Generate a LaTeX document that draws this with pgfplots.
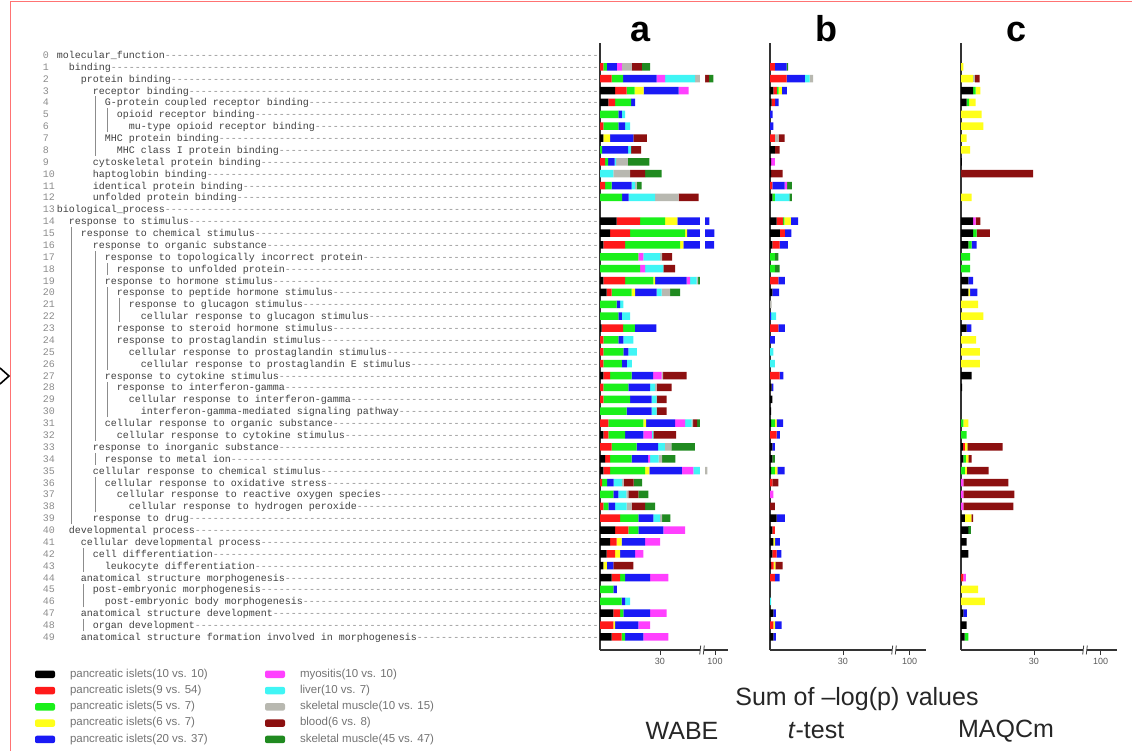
\documentclass[border=0pt]{standalone}
\usepackage{fontspec}
\setmainfont{Liberation Sans}
\newfontfamily\monof{Liberation Mono}
\usepackage{pgfplots}
\usepackage{pgfplotstable}
\pgfplotsset{compat=1.18}

\definecolor{cbk}{HTML}{000000}
\definecolor{crd}{HTML}{FF1A1A}
\definecolor{cgn}{HTML}{1AF01A}
\definecolor{cye}{HTML}{FFFF1A}
\definecolor{cbl}{HTML}{1A1AF5}
\definecolor{cmg}{HTML}{FF40FF}
\definecolor{ccy}{HTML}{40F5F5}
\definecolor{cgy}{HTML}{B8B8B0}
\definecolor{cdr}{HTML}{8C1010}
\definecolor{cdg}{HTML}{208A20}

\newlength\cw \setlength\cw{6pt}
\newcommand\T[1]{\hspace*{#1\cw}}
\newcommand\V{\makebox[\cw]{\textcolor{black!45}{\rule[-2.5pt]{0.8pt}{11.9pt}}}}
\newcommand\tl[3]{\hbox to 556pt{\monof\fontsize{10}{12}\selectfont\makebox[14pt][l]{\textcolor{black!45}{#1}}#2\textcolor{black!75}{#3}\textcolor{black!45}{\xleaders\hbox to 6pt{\hss-\hss}\hfill}}}

\pgfplotstableread{
y bk rd gn ye bl mg cy gy dr dg
0 0 0 0 0 0 0 0 0 0 0
1 0 1.7 1.7 0 5 2.5 0 5 5 4.2
2 0 5.8 5.8 0 16.7 4.2 15 5 2 2.2
3 7.5 5.8 4 4.5 17.5 5 0 0 0 0
4 4.2 3.3 8 0 2 0 0 0 0 0
5 0 0 9.2 0 1.7 0 1.7 0 0 0
6 0 1.7 7.5 0 3.3 0 2.5 0 0 0
7 1.7 0 0 3.3 11.7 0 0 0 6.7 0
8 0 0 1 0 13 0 1.5 0 5 0
9 0 2.5 1.5 0 3.3 0 0.8 5.8 0 10.8
10 0 0 0 0 0 0 6.7 8.3 7.5 8.3
11 0 2.5 3.3 0 10 0 1.7 0.8 0 2.5
12 0 0 11 0 3.3 0 13.3 11.7 10 0
13 0 0 0 0 0 0 0 0 0 0
14 8.3 11.7 12.5 6.2 16 0 0 0 0 0
15 5 10 27.5 1 13.7 0 0 0 0 0
16 1.7 10.8 27.5 1.7 15.3 0 0 0 0 0
17 0 0 19.2 0 0 2.5 8.3 1 5 0
18 0 0 20 0 0 2.5 9.2 0 5.8 0
19 1.7 10.8 14.2 0.8 15.8 1.7 3.3 0.8 0 1.7
20 3.3 2.5 10 1.7 10.8 0 2.5 4.2 0 5
21 0 0 8.3 0 1.7 0 1.7 0 0 0
22 0 0 9.2 0 1.7 0 4.2 0 0 0
23 0.8 10.8 5.8 0 10.8 0 0 0 0 0
24 0 1.7 7.5 0 2.5 0 5 0 0 0
25 0 1.7 10 0 2.5 0 4.2 0 0 0
26 0 1.7 9.2 0 2.5 0 2.5 0 0 0
27 1.7 3.3 10.8 0 10.8 4.2 0 0.8 11.7 0
28 0 1.7 12.5 0 10.8 0 2.5 0.8 7.5 0
29 0 1.7 13.3 0 10.8 0 2.5 0 5 0
30 0 0 13.3 0 12.5 0 2.5 0 5 0
31 0 4.2 17.5 1.3 14.5 5 3.3 0.8 2 1.4
32 1.7 2.5 8.3 0 9.2 4.2 0.8 0 11.3 0
33 0 5.8 12.5 0 10.8 0 3.3 3.3 0 11.7
34 2.5 2.5 10.8 0 8.3 1 4.2 1.7 0 6.7
35 1.7 3.3 17.5 2.2 16.2 5.8 4.2 2.8 0 0
36 0 1 2.5 0 3.3 0 4.2 0.8 5 4.2
37 0 0 6.7 0 2.5 0 4 1 5 5
38 0 1.7 2.5 0 3.3 0 5.8 2.5 6.7 5
39 0 10 9.2 0 7.5 0 3.3 1 0 4.2
40 7.5 6.7 5 0 12.5 10.8 0 0 0 0
41 5 3.3 0 2.5 11.7 7.5 0 0 0 0
42 3.3 4.2 0 2.5 7.5 4.2 0 0 0 0
43 1.7 0 0 1.7 3.3 0 0 0 10 0
44 5.8 4.2 2.5 0 12.5 9.2 0 0 0 0
45 0 0 6.7 0 1.7 0 0 0 0 0
46 0 0 10.8 0 1.7 0 2.5 0 0 0
47 6.7 3.3 1.7 0 13.3 8.3 0 0 0 0
48 0 6.7 0 0.8 11.7 5.8 0 0 0 0
49 5.8 5 1.7 0 9.2 12.5 0 0 0 0
}\tabA

\pgfplotstableread{
y bk rd gn ye bl mg cy gy dr dg
0 0 0 0 0 0 0 0 0 0 0
1 0 2 0 0 4.8 0 0 0 0 0.7
2 0 6.8 0 0 7.5 0 2 1.4 0 0
3 1.4 1.4 0.7 1.4 2 0 0 0 0 0
4 0.7 1.4 0 0 1.4 0 0 0 0 0
5 0 0 0 0 1.1 0 0 0 0 0
6 0 0 0 0 1.4 0 0 0 0 0
7 0 2 0 0 0 0 0 1.5 2.5 0
8 2 0 0 0 0 0 0 0 2 0
9 0.5 0 0 0 0 1.5 0 0 0 0
10 0.5 0 0 0 0 0 0 0 4.7 0
11 0 1 0 0 5 1 0 0 0 2
12 1 0 1 0 0 0 6 0 0 1
13 0 0 0 0 0 0 0 0 0 0
14 2.7 2.7 0.5 2.7 3 0 0 0 0 0
15 4.1 2 0 0 2.7 0 0 0 0 0
16 1 3 0 0 3.4 0 0 0 0 0
17 0 0 2 0 0 0 0 0 0 1.4
18 0 0 2 0 0 0 0 0 0 2
19 0 3.4 0 0 2.7 0 0 0 0 0
20 1 0 0 0 2.7 0 0 0 0 0
21 0 0 0 0 0 0 0 0.7 0 0
22 0 0 0 0 0.5 0 2 0 0 0
23 0 3.4 0 0 2.7 0 0 0 0 0
24 0 0 0 0 2 0 0 0 0 0
25 0 0 0 0 0 0 1.4 0 0 0
26 0 0 0 0 0 0 2 0 0 0
27 0 4 0 0 1.5 0 0 0 0 0
28 0.7 0 0 0 0.7 0 0 0 0 0
29 1 0 0 0 0 0 0 0 0 0
30 0.5 0 0 0 0 0 0 0 0 0
31 0.5 0 1.5 0.7 2.7 0 0 0 0 0
32 0 2.7 0 0 1.4 0 0 0 0 0
33 1 0 0 0 1 0 0 0 0 0
34 1 0 0 0 0 0 0 0 0 1
35 0.5 0 1.5 1 3 0 0 0 0 0
36 0 1 0 0 0 0 0 0 2.4 0
37 0 0 0 0 0 1.4 0 0 0 0
38 0 0 0 0 0 0 0 0 2 0
39 2.7 0 0 0 3.4 0 0 0 0 0
40 1 1 0 0 0 0 0 0 0 0
41 1.4 0 0 0.7 2 0 0 0 0 0
42 1 1.7 0 0 2 0 0 0 0 0
43 0.5 1 0 0.7 0 0 0 0 3 0
44 0 2 0 0 2 0 0 0 0 0
45 0 0 0 0 0 0 0 0 0 0
46 0 0 0 0 0 0 0.5 0 0 0
47 1.4 0 0 0 1 0 0 0 0 0
48 0 1.4 0 0.7 2.7 0 0 0 0 0
49 1.4 0 0 0 1 0 0 0 0 0
}\tabB

\pgfplotstableread{
y bk rd gn ye bl mg cy gy dr dg
0 0 0 0 0 0 0 0 0 0 0
1 0 0 0 1 0 0 0 0 0 0
2 0 0 0 5 0 0 0 0.7 2 0
3 5 0 1 2 0 0 0 0 0 0
4 2.3 0 1 2.7 0 0 0 0 0 0
5 0 0 0 8.5 0 0 0 0 0 0
6 0 0 0 9.2 0 0 0 0 0 0
7 0 0 0 2.3 0 0 0 0 0 0
8 0 0 0 3.7 0 0 0 0 0 0
9 0.4 0 0 0 0 0 0 0 0 0
10 0 0 0 0 0 0 0 0 29.7 0
11 0 0 0 0 0 0 0 0 0 0
12 0 0 0 4.4 0 0 0 0 0 0
13 0 0 0 0 0 0 0 0 0 0
14 5 0 0 0 0 1 0 0 2 0
15 5 0 1.4 0 0 0 0 0 5.5 0
16 3 0 1.4 0 2 0 0 0 0 0
17 0 0 3.7 0 0 0 0 0 0 0
18 0 0 3.7 0 0 0 0 0 0 0
19 3 0 0 0 2 0 0 0 0 0
20 3 0 0 0.7 3 0 0 0 0 0
21 0 0 0 7 0 0 0 0 0 0
22 0 0 0 9.2 0 0 0 0 0 0
23 2.3 0 0 0 2 0 0 0 0 0
24 0 0 0 6.2 0 0 0 0 0 0
25 0 0 0 7.8 0 0 0 0 0 0
26 0 0 0 7.8 0 0 0 0 0 0
27 4.4 0 0 0 0 0 0 0 0 0
28 0.5 0 0 0 0 0 0 0 0 0
29 0 0 0 0 0 0 0 0 0 0
30 0 0 0 0 0 0 0 0 0 0
31 0 0 1 2 0 0 0 0 0 0
32 0 0 2.3 0 0 0 0 0 0 0
33 0.8 0.8 0 1 0 0 0 0 14.5 0
34 1 0 1 1 0 0 0 0 1.4 0
35 0 0 1.6 0.8 0 0 0 0 9 0
36 0 0 0 0 0 1 0 0 18.5 0
37 0 0 0 0 0 1 0 0 21 0
38 0 0 0 0 0 1 0 0 20.5 0
39 1.6 0 0 2.7 0 0 0 0 0.7 0
40 3 0 0 0 0 0 0 0 0 1
41 2.3 0 0 0 0 0 0 0 0 0
42 3 0 0 0 0 0 0 0 0 0
43 0 0 0 0 0 0 0 0 0 0
44 0 1 0 0 0 1 0 0 0 0
45 0 0 0 7 0 0 0 0 0 0
46 0 0 0 9.8 0 0 0 0 0 0
47 1 0 0 0 1.4 0 0 0 0 0
48 2.3 0 0 0 0 0 0 0 0 0
49 1.5 0 1.5 0 0 0 0 0 0 0
}\tabC

\newcommand\stackbars[1]{%
\addplot[fill=cbk,draw=none] table[x=bk,y expr=-\thisrow{y}]{#1};
\addplot[fill=crd,draw=none] table[x=rd,y expr=-\thisrow{y}]{#1};
\addplot[fill=cgn,draw=none] table[x=gn,y expr=-\thisrow{y}]{#1};
\addplot[fill=cye,draw=none] table[x=ye,y expr=-\thisrow{y}]{#1};
\addplot[fill=cbl,draw=none] table[x=bl,y expr=-\thisrow{y}]{#1};
\addplot[fill=cmg,draw=none] table[x=mg,y expr=-\thisrow{y}]{#1};
\addplot[fill=ccy,draw=none] table[x=cy,y expr=-\thisrow{y}]{#1};
\addplot[fill=cgy,draw=none] table[x=gy,y expr=-\thisrow{y}]{#1};
\addplot[fill=cdr,draw=none] table[x=dr,y expr=-\thisrow{y}]{#1};
\addplot[fill=cdg,draw=none] table[x=dg,y expr=-\thisrow{y}]{#1};
}
% axis break symbol on a bottom axis line, at absolute x (pt)
\newcommand\brk[1]{%
\fill[white] (#1pt-1.6pt,-648pt) rectangle (#1pt+1.6pt,-652.5pt);
\draw[black!75, line width=0.8pt] (#1pt-2.3pt,-654.5pt) -- (#1pt-1.3pt,-645.5pt);
\draw[black!75, line width=0.8pt] (#1pt+1.3pt,-654.5pt) -- (#1pt+2.3pt,-645.5pt);
}

\pgfplotsset{panel/.style={scale only axis, height=607pt, xbar stacked, bar width=7.5pt,
  ymin=-50.1, ymax=1, xmin=0, xmax=64, axis lines*=left,
  axis line style={draw=black!80, line width=1.2pt},
  xtick={30,57.5}, xticklabels={30,100}, tick align=outside, major tick length=5pt,
  xtick style={draw=black!80, line width=0.8pt}, ytick=\empty,
  every tick label/.append style={font=\fontsize{9}{10}\selectfont, text=black!65},
  /pgf/number format/assume math mode=true, clip=false}}

\begin{document}
\begin{tikzpicture}
\path[use as bounding box] (0pt,0pt) rectangle (1132pt,-751pt);
\draw[red!55, line width=1pt] (10pt,-751pt) -- (10pt,-2pt) -- (1132pt,-2pt);
\draw[line width=1.6pt] (0pt,-368pt) -- (9pt,-376pt) -- (0pt,-384pt);

\begin{axis}[panel, width=128pt, at={(600pt,-650pt)}, anchor=south west,
  ytick={0,-1,...,-49}, ytick style={draw=none},
  yticklabel style={anchor=base east, inner sep=0pt, yshift=-3.5pt, xshift=4pt},
  yticklabels={
\tl{0}{}{molecular\_function},
\tl{1}{\T2}{binding},
\tl{2}{\T4}{protein binding},
\tl{3}{\T6}{receptor binding},
\tl{4}{\T6\V\T1}{G-protein coupled receptor binding},
\tl{5}{\T6\V\T1\V\T1}{opioid receptor binding},
\tl{6}{\T6\V\T1\V\T3}{mu-type opioid receptor binding},
\tl{7}{\T6\V\T1}{MHC protein binding},
\tl{8}{\T6\V\T3}{MHC class I protein binding},
\tl{9}{\T6}{cytoskeletal protein binding},
\tl{10}{\T6}{haptoglobin binding},
\tl{11}{\T6}{identical protein binding},
\tl{12}{\T6}{unfolded protein binding},
\tl{13}{}{biological\_process},
\tl{14}{\T2}{response to stimulus},
\tl{15}{\T2\V\T1}{response to chemical stimulus},
\tl{16}{\T2\V\T3}{response to organic substance},
\tl{17}{\T2\V\T3\V\T1}{response to topologically incorrect protein},
\tl{18}{\T2\V\T3\V\T1\V\T1}{response to unfolded protein},
\tl{19}{\T2\V\T3\V\T1}{response to hormone stimulus},
\tl{20}{\T2\V\T3\V\T1\V\T1}{response to peptide hormone stimulus},
\tl{21}{\T2\V\T3\V\T1\V\T1\V\T1}{response to glucagon stimulus},
\tl{22}{\T2\V\T3\V\T1\V\T1\V\T3}{cellular response to glucagon stimulus},
\tl{23}{\T2\V\T3\V\T1\V\T1}{response to steroid hormone stimulus},
\tl{24}{\T2\V\T3\V\T1\V\T1}{response to prostaglandin stimulus},
\tl{25}{\T2\V\T3\V\T1\V\T3}{cellular response to prostaglandin stimulus},
\tl{26}{\T2\V\T3\V\T1\V\T5}{cellular response to prostaglandin E stimulus},
\tl{27}{\T2\V\T3\V\T1}{response to cytokine stimulus},
\tl{28}{\T2\V\T3\V\T1\V\T1}{response to interferon-gamma},
\tl{29}{\T2\V\T3\V\T1\V\T3}{cellular response to interferon-gamma},
\tl{30}{\T2\V\T3\V\T1\V\T5}{interferon-gamma-mediated signaling pathway},
\tl{31}{\T2\V\T3\V\T1}{cellular response to organic substance},
\tl{32}{\T2\V\T3\V\T3}{cellular response to cytokine stimulus},
\tl{33}{\T2\V\T3}{response to inorganic substance},
\tl{34}{\T2\V\T3\V\T1}{response to metal ion},
\tl{35}{\T2\V\T3}{cellular response to chemical stimulus},
\tl{36}{\T2\V\T3\V\T1}{cellular response to oxidative stress},
\tl{37}{\T2\V\T3\V\T3}{cellular response to reactive oxygen species},
\tl{38}{\T2\V\T3\V\T5}{cellular response to hydrogen peroxide},
\tl{39}{\T2\V\T3}{response to drug},
\tl{40}{\T2}{developmental process},
\tl{41}{\T4}{cellular developmental process},
\tl{42}{\T4\V\T1}{cell differentiation},
\tl{43}{\T4\V\T3}{leukocyte differentiation},
\tl{44}{\T4}{anatomical structure morphogenesis},
\tl{45}{\T4\V\T1}{post-embryonic morphogenesis},
\tl{46}{\T4\V\T3}{post-embryonic body morphogenesis},
\tl{47}{\T4}{anatomical structure development},
\tl{48}{\T4\V\T1}{organ development},
\tl{49}{\T4}{anatomical structure formation involved in morphogenesis}
  }]
\stackbars{\tabA}
\end{axis}

\begin{axis}[panel, width=155.5pt, at={(770pt,-650pt)}, anchor=south west]
\stackbars{\tabB}
\end{axis}

\begin{axis}[panel, width=155.5pt, at={(961pt,-650pt)}, anchor=south west]
\stackbars{\tabC}
\end{axis}

% white gap in panel a bars at the axis break
\fill[white] (700pt,-47pt) rectangle (705pt,-644pt);
\brk{702}
\brk{894}
\brk{1085}

\begin{axis}[hide axis, scale only axis, width=10pt, height=10pt,
  at={(35pt,-670pt)}, anchor=north west, xmin=0, xmax=1, ymin=0, ymax=1,
  legend columns=2,
  legend style={at={(0,1)}, anchor=north west, draw=none, fill=none,
    inner sep=0pt, outer sep=0pt, row sep=7.3pt,
    font=\fontsize{11.5}{12}\selectfont, text=black!55,
    nodes={inner sep=0pt, text height=7pt, text depth=2pt, anchor=base west},
    /tikz/every odd column/.style={column sep=15pt},
    /tikz/every even column/.style={column sep=2pt}},
  legend image code/.code={\fill[#1,draw=none,rounded corners=2pt] (0pt,-1pt) rectangle (20pt,6.5pt);}]
\addlegendimage{fill=cbk}\addlegendentry{\makebox[193pt][l]{pancreatic islets(10 vs. 10)}}
\addlegendimage{fill=cmg}\addlegendentry{myositis(10 vs. 10)}
\addlegendimage{fill=crd}\addlegendentry{\makebox[193pt][l]{pancreatic islets(9 vs. 54)}}
\addlegendimage{fill=ccy}\addlegendentry{liver(10 vs. 7)}
\addlegendimage{fill=cgn}\addlegendentry{\makebox[193pt][l]{pancreatic islets(5 vs. 7)}}
\addlegendimage{fill=cgy}\addlegendentry{skeletal muscle(10 vs. 15)}
\addlegendimage{fill=cye}\addlegendentry{\makebox[193pt][l]{pancreatic islets(6 vs. 7)}}
\addlegendimage{fill=cdr}\addlegendentry{blood(6 vs. 8)}
\addlegendimage{fill=cbl}\addlegendentry{\makebox[193pt][l]{pancreatic islets(20 vs. 37)}}
\addlegendimage{fill=cdg}\addlegendentry{skeletal muscle(45 vs. 47)}
\end{axis}

\node[anchor=base, font=\fontsize{36}{40}\selectfont\bfseries] at (641pt,-42pt) {a};
\node[anchor=base, font=\fontsize{36}{40}\selectfont\bfseries] at (826pt,-42pt) {b};
\node[anchor=base, font=\fontsize{36}{40}\selectfont\bfseries] at (1016pt,-42pt) {c};
\node[font=\fontsize{25}{30}\selectfont, text=black!85] at (857pt,-699pt) {Sum of –log(p) values};
\node[font=\fontsize{25}{30}\selectfont, text=black!85] at (682pt,-731pt) {WABE};
\node[font=\fontsize{25}{30}\selectfont, text=black!85] at (816pt,-731pt) {\textit{t}-test};
\node[font=\fontsize{25}{30}\selectfont, text=black!85] at (1006pt,-731pt) {MAQCm};
\end{tikzpicture}
\end{document}
